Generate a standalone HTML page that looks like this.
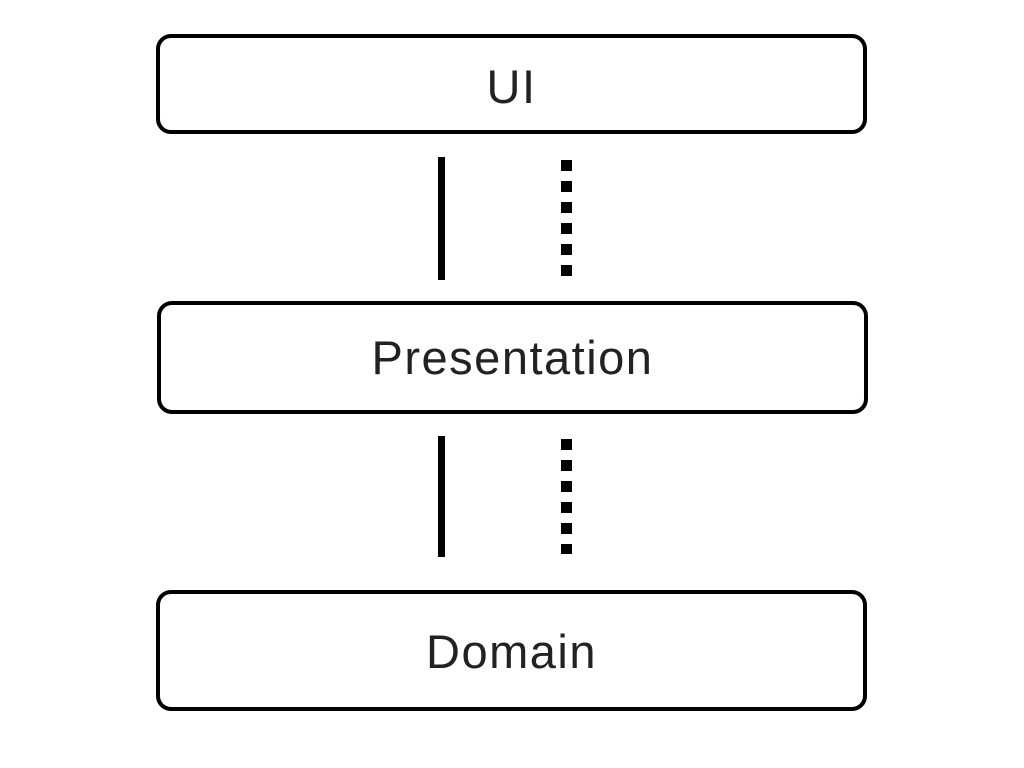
<!DOCTYPE html>
<html><head><style>
body{margin:0;width:1024px;height:768px;background:#fff;position:relative;overflow:hidden;font-family:"Liberation Sans",sans-serif}
.b{position:absolute;border:4px solid #000;border-radius:15px;box-sizing:border-box;display:flex;align-items:center;justify-content:center;font-size:47px;color:#222;letter-spacing:1.5px}
.s{position:absolute;background:#000;width:7px}
.d{position:absolute;width:11px;background:repeating-linear-gradient(#000 0 11px,transparent 11px 21px)}
</style></head><body>
<div class="b" style="left:156px;top:34px;width:711px;height:100px;padding-top:4px">UI</div>
<div class="b" style="left:157px;top:301px;width:711px;height:113px;padding-top:0">Presentation</div>
<div class="b" style="left:156px;top:590px;width:711px;height:121px;padding-top:2px">Domain</div>
<div class="s" style="left:438px;top:157px;height:123px"></div>
<div class="d" style="left:561px;top:160px;height:116px"></div>
<div class="s" style="left:438px;top:436px;height:121px"></div>
<div class="d" style="left:561px;top:439px;height:115px"></div>
</body></html>
